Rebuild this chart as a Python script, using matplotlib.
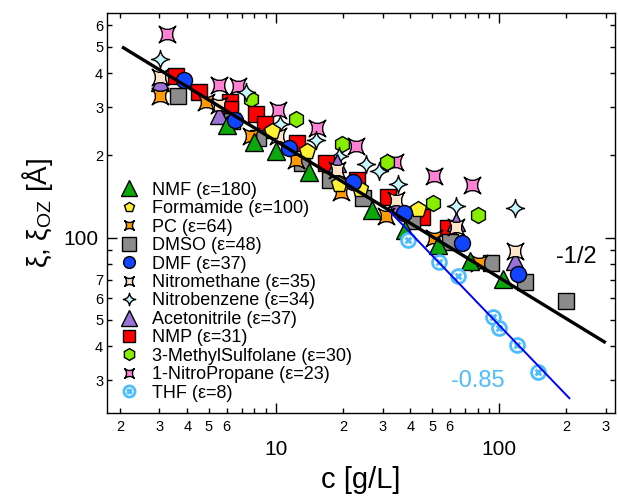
import numpy as np
import matplotlib
matplotlib.use("Agg")
import matplotlib.pyplot as plt
from matplotlib.path import Path
from matplotlib.ticker import LogLocator, FuncFormatter

plt.rcParams['font.family'] = ['Liberation Sans', 'DejaVu Sans']
plt.rcParams['mathtext.fontset'] = 'custom'
plt.rcParams['mathtext.rm'] = 'Liberation Sans'

# data: concentration c [g/L] and correlation length xi [A]
nmf_c = [6.0, 7.97, 10.0, 13.98, 26.9, 37.8, 52.9, 73.9, 103.9]
nmf_xi = [258, 224, 207, 174, 126.6, 106.1, 93.9, 81.7, 70.5]

form_c = [9.6, 13.7, 19.1, 23.8, 43.4]
form_xi = [245.5, 208, 157, 150.5, 126.9]

pc_c = [3.02, 4.86, 7.73, 12.3, 19.5, 31.1, 51.0, 81.1]
pc_xi = [330, 313.5, 235, 192, 146.8, 119.9, 99.3, 80.8]

dmso_c = [3.63, 6.35, 8.31, 13.1, 17.5, 24.6, 40.5, 60.2, 91.8, 130.3, 199]
dmso_xi = [330, 267, 231, 187, 162.4, 139.2, 115, 96.3, 80.4, 68.7, 58.5]

dmf_c = [3.87, 6.55, 11.4, 22.2, 37.4, 68.1, 121.7]
dmf_xi = [377.6, 269, 213.6, 160, 122.7, 95.2, 73.8]

nme_c = [3.02, 5.53, 10.2, 18.7, 34.5, 64.0, 117.6]
nme_xi = [387, 306, 235, 176.7, 137.2, 109.3, 89.2]

nbz_c = [3.02, 7.34, 10.4, 15.1, 19.05, 25.3, 28.9, 35.3, 64.0, 118.2]
nbz_xi = [449, 341, 260, 227.7, 199.7, 185.9, 175.2, 156.4, 130.4, 128.3]

acn_c = [3.01, 5.53, 18.8, 34.7, 64.0, 118.2]
acn_xi = [372, 281, 188, 131.5, 114, 82.0]

nmp_c = [3.55, 4.52, 6.19, 6.22, 8.14, 8.93, 12.4, 16.7, 23.1, 31.8, 45.1, 59.1]
nmp_xi = [390, 342, 313.5, 295.6, 283.5, 260.5, 221, 188, 162.4, 141.3, 118.9, 108.1]

ms_c = [7.73, 12.3, 19.8, 31.4, 50.5, 80.3]
ms_xi = [321.7, 271, 220, 189.8, 133.8, 120.9]

nip_c = [3.25, 5.55, 6.76, 10.2, 15.3, 22.7, 34.1, 51.0, 75.1]
nip_xi = [556.7, 360.5, 357.5, 293, 251.8, 215.5, 188.3, 168, 155.7]

thf_c = [38.9, 53.7, 65.5, 94.0, 99.7, 119.7, 149.5]
thf_xi = [97.9, 81.0, 72.3, 51.3, 46.5, 40.4, 32.1]

# power-law guides: prefactor, exponent, c range
fit_all = (713.0, -0.5, 2.04, 300.0)
fit_thf = (2390.0, -0.85, 32.4, 207.6)


def corner_star(k=0.2):
    v = [(1, 1), (0, k), (-1, 1), (-k, 0), (-1, -1), (0, -k), (1, -1), (k, 0), (1, 1), (0, 0)]
    codes = [Path.MOVETO] + [Path.CURVE3] * 8 + [Path.CLOSEPOLY]
    return Path(v, codes)


def sparkle(k=0.12):
    v = [(0, 1), (-k, k), (-1, 0), (-k, -k), (0, -1), (k, -k), (1, 0), (k, k), (0, 1), (0, 0)]
    codes = [Path.MOVETO] + [Path.CURVE3] * 8 + [Path.CLOSEPOLY]
    return Path(v, codes)


def circ_x():
    a = 0.42
    xp = Path([(-a, -a), (a, a), (-a, a), (a, -a)],
              [Path.MOVETO, Path.LINETO, Path.MOVETO, Path.LINETO])
    return Path.make_compound_path(Path.unit_circle(), xp)


# name -> c, xi, marker, face, edge, ms, mew, legend ms
series = {
    'NMF (ε=180)': (nmf_c, nmf_xi, '^', '#0aa80a', 'k', 12.5, 1.0, 11.5),
    'Formamide (ε=100)': (form_c, form_xi, 'p', '#fff033', 'k', 12, 1.0, 7.5),
    'PC (ε=64)': (pc_c, pc_xi, corner_star(), '#ff9a00', 'k', 12, 1.0, 7),
    'DMSO (ε=48)': (dmso_c, dmso_xi, 's', '#8c8c8c', 'k', 11.5, 1.0, 9.5),
    'DMF (ε=37)': (dmf_c, dmf_xi, 'o', '#1144ff', 'k', 11.5, 1.0, 8.5),
    'Nitromethane (ε=35)': (nme_c, nme_xi, corner_star(), '#ffe6c8', 'k', 12, 1.0, 7),
    'Nitrobenzene (ε=34)': (nbz_c, nbz_xi, sparkle(), '#c8f8ff', 'k', 13, 1.0, 9),
    'Acetonitrile (ε=37)': (acn_c, acn_xi, '^', '#9b72d6', 'k', 12.5, 1.0, 11.5),
    'NMP (ε=31)': (nmp_c, nmp_xi, 's', '#ff0000', 'k', 11.5, 1.0, 9),
    '3-MethylSulfolane (ε=30)': (ms_c, ms_xi, 'h', '#88ee00', 'k', 11.5, 1.0, 8.5),
    '1-NitroPropane (ε=23)': (nip_c, nip_xi, corner_star(), '#ff80d4', 'k', 12, 1.0, 7),
    'THF (ε=8)': (thf_c, thf_xi, circ_x(), 'white', '#4ebcff', 10, 2.0, 8),
}
draw_order = ['1-NitroPropane (ε=23)', '3-MethylSulfolane (ε=30)', 'Nitrobenzene (ε=34)',
              'NMP (ε=31)', 'DMSO (ε=48)', 'Acetonitrile (ε=37)', 'Nitromethane (ε=35)',
              'PC (ε=64)', 'Formamide (ε=100)', 'NMF (ε=180)', 'DMF (ε=37)', 'THF (ε=8)']

fig = plt.figure(figsize=(6.18, 4.96), dpi=100)
ax = fig.add_axes([0.1736, 0.1667, 0.8215, 0.8077])

handles = {}
for z, name in enumerate(draw_order):
    c, xi, mk, fc, ec, ms, mew, lms = series[name]
    h, = ax.plot(c, xi, ls='none', marker=mk, ms=ms, mfc=fc, mec=ec, mew=mew,
                 zorder=3 + z * 0.1, label=name)
    handles[name] = h

for (A, p, c0, c1), col, lw in [(fit_all, 'k', 2.4), (fit_thf, '#0000ff', 1.4)]:
    cc = np.logspace(np.log10(c0), np.log10(c1), 50)
    ax.plot(cc, A * cc ** p, color=col, lw=lw, zorder=5, solid_capstyle='butt')

ax.text(222, 85, '-1/2', fontsize=17, ha='center', va='center')
ax.text(80.5, 29.9, '-0.85', fontsize=17, ha='center', va='center', color='#4ebcff')

ax.set_xscale('log')
ax.set_yscale('log')
ax.set_xlim(1.752, 330)
ax.set_ylim(22.7, 666)

ax.xaxis.set_major_locator(LogLocator(base=10, subs=(1.0,)))
ax.yaxis.set_major_locator(LogLocator(base=10, subs=(1.0,)))
ax.xaxis.set_minor_locator(LogLocator(base=10, subs=np.arange(2, 10)))
ax.yaxis.set_minor_locator(LogLocator(base=10, subs=np.arange(2, 10)))


def minor_fmt(keep):
    def f(v, pos):
        d = int(round(v / 10 ** np.floor(np.log10(v) + 1e-9)))
        return str(d) if d in keep else ''
    return FuncFormatter(f)


ax.xaxis.set_major_formatter(FuncFormatter(lambda v, p: '%d' % round(v)))
ax.yaxis.set_major_formatter(FuncFormatter(lambda v, p: '%d' % round(v)))
ax.xaxis.set_minor_formatter(minor_fmt({2, 3, 4, 5, 6}))
ax.yaxis.set_minor_formatter(minor_fmt({2, 3, 4, 5, 6, 7}))

ax.tick_params(which='both', direction='in', top=True, right=True, width=1)
ax.tick_params(which='major', length=7, labelsize=15)
ax.tick_params(which='minor', length=3.6, labelsize=10.5)
ax.tick_params(axis='x', which='major', pad=19)
ax.tick_params(axis='x', which='minor', pad=5)
ax.tick_params(axis='y', which='major', pad=6)
ax.tick_params(axis='y', which='minor', pad=3)
for s in ax.spines.values():
    s.set_linewidth(1)

ax.set_xlabel('c [g/L]', fontsize=21, labelpad=5)
ax.set_ylabel(r'ξ, ξ$_{\rm OZ}$ [Å]', fontsize=20, labelpad=6)

order = ['NMF (ε=180)', 'Formamide (ε=100)', 'PC (ε=64)', 'DMSO (ε=48)', 'DMF (ε=37)',
         'Nitromethane (ε=35)', 'Nitrobenzene (ε=34)', 'Acetonitrile (ε=37)', 'NMP (ε=31)',
         '3-MethylSulfolane (ε=30)', '1-NitroPropane (ε=23)', 'THF (ε=8)']
leg = ax.legend([handles[n] for n in order], order, loc='upper left',
                bbox_to_anchor=(0.0, 0.605), frameon=False, fontsize=13,
                labelspacing=0.08, handlelength=1.2, handletextpad=0.7,
                borderpad=0.3, borderaxespad=0.3, numpoints=1)
for h, n in zip(leg.legend_handles, order):
    h.set_markersize(series[n][7])

fig.savefig('out.png', dpi=100)
